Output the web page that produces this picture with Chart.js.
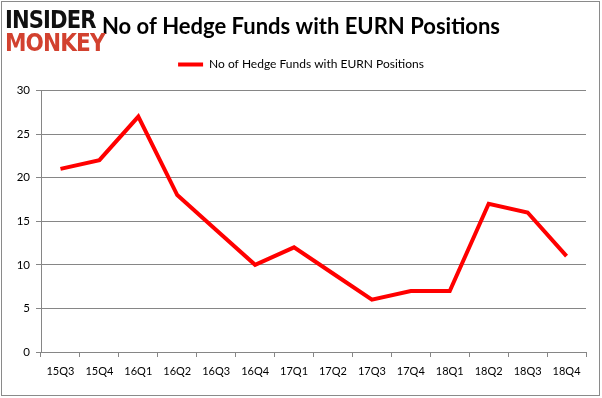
<!DOCTYPE html>
<html>
<head>
<meta charset="utf-8">
<script src="https://cdn.jsdelivr.net/npm/chart.js@4.4.0/dist/chart.umd.min.js"></script>
<style>
  html, body { margin: 0; padding: 0; background: #fff; }
  #wrap { position: relative; width: 602px; height: 398px; }
  .logo { position: absolute; left: 5px; font-family: "DejaVu Sans", sans-serif; font-weight: bold;
          font-size: 24px; letter-spacing: -1px; line-height: 1; transform-origin: left top; }
  #logo1 { top: 8px; color: #111; transform: scaleX(0.88); }
  #logo2 { top: 31px; color: #d2412f; transform: scaleX(0.9); }
</style>
</head>
<body>
<div id="wrap">
  <canvas id="chart" width="602" height="398"></canvas>
  <div class="logo" id="logo1">INSIDER</div>
  <div class="logo" id="logo2">MONKEY</div>
</div>
<script>
const quarters = ['15Q3', '15Q4', '16Q1', '16Q2', '16Q3', '16Q4', '17Q1', '17Q2', '17Q3', '17Q4', '18Q1', '18Q2', '18Q3', '18Q4'];
const hedgeFunds = [21, 22, 27, 18, 14, 10, 12, 9, 6, 7, 7, 17, 16, 11];
const seriesName = 'No of Hedge Funds with EURN Positions';

const frame = {
  id: 'frame',
  afterInit(chart) {
    // extra gap between legend and plot area
    const lg = chart.legend;
    const fit = lg.fit;
    lg.fit = function () { fit.call(this); this.height += 10; };
  },
  beforeDraw(chart) {
    const c = chart.ctx;
    c.save();
    c.fillStyle = '#fff';
    c.fillRect(0, 0, chart.width, chart.height);
    c.strokeStyle = '#8a8a8a';
    c.lineWidth = 1;
    c.strokeRect(1.5, 1.5, 598, 394);
    c.restore();
  }
};

Chart.defaults.font.family = 'Lato, "Open Sans", sans-serif';
Chart.defaults.color = '#000';

new Chart(document.getElementById('chart'), {
  type: 'line',
  data: {
    labels: quarters,
    datasets: [{
      label: seriesName,
      data: hedgeFunds,
      borderColor: '#ff0000',
      backgroundColor: '#ff0000',
      borderWidth: 4,
      pointRadius: 0,
      pointStyle: 'line',
      tension: 0
    }]
  },
  options: {
    responsive: false,
    animation: false,
    layout: { padding: 0 },
    plugins: {
      title: {
        display: true,
        text: seriesName,
        font: { size: 22, weight: 'bold' },
        padding: { top: 14, bottom: 10 }
      },
      legend: {
        labels: {
          usePointStyle: true,
          pointStyleWidth: 25,
          font: { size: 12 },
          padding: 8
        }
      },
      tooltip: { enabled: false }
    },
    scales: {
      x: {
        offset: true,
        grid: { offset: true, drawOnChartArea: false, drawTicks: true, tickLength: 5, color: '#868686' },
        border: { color: '#868686' },
        ticks: { font: { size: 11 }, padding: 8, maxRotation: 0 },
        afterFit(scale) { scale.height = 46; }
      },
      y: {
        min: 0,
        max: 30,
        ticks: { stepSize: 5, font: { size: 11.5 }, padding: 6 },
        grid: { color: '#868686', tickLength: 5 },
        border: { color: '#868686' },
        afterFit(scale) { scale.width = 41; }
      },
      yRight: {
        position: 'right',
        min: 0,
        max: 30,
        ticks: { display: false },
        grid: { drawOnChartArea: false, drawTicks: false },
        border: { display: false },
        afterFit(scale) { scale.width = 16; }
      }
    }
  },
  plugins: [frame]
});
</script>
</body>
</html>
